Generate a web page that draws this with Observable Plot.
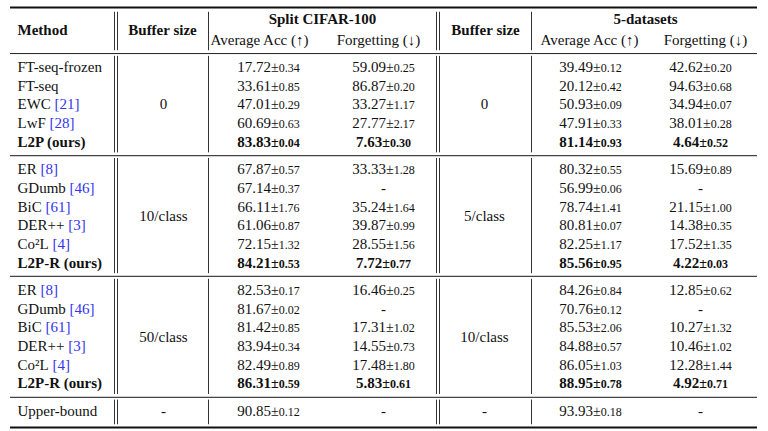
<!DOCTYPE html>
<html><head><meta charset="utf-8">
<script src="https://cdn.jsdelivr.net/npm/d3@7"></script>
<script src="https://cdn.jsdelivr.net/npm/@observablehq/plot@0.6"></script>
<style>html,body{margin:0;padding:0;background:#fff}svg{display:block}</style>
</head><body><div id="chart"></div>
<script>
// ---------- data ----------
const methods = ["FT-seq-frozen","FT-seq","EWC [21]","LwF [28]","L2P (ours)",
  "ER [8]","GDumb [46]","BiC [61]","DER++ [3]","Co\u00b2L [4]","L2P-R (ours)",
  "ER [8]","GDumb [46]","BiC [61]","DER++ [3]","Co\u00b2L [4]","L2P-R (ours)",
  "Upper-bound"];
const groupOf = [0,0,0,0,0, 1,1,1,1,1,1, 2,2,2,2,2,2, 3];
const bufferCifar = ["0","10/class","50/class","-"];
const bufferFive = ["0","5/class","10/class","-"];
const cifarAcc    = [17.72,33.61,47.01,60.69,83.83, 67.87,67.14,66.11,61.06,72.15,84.21, 82.53,81.67,81.42,83.94,82.49,86.31, 90.85];
const cifarAccStd = [0.34,0.85,0.29,0.63,0.04, 0.57,0.37,1.76,0.87,1.32,0.53, 0.17,0.02,0.85,0.34,0.89,0.59, 0.12];
const cifarFgt    = [59.09,86.87,33.27,27.77,7.63, 33.33,null,35.24,39.87,28.55,7.72, 16.46,null,17.31,14.55,17.48,5.83, null];
const cifarFgtStd = [0.25,0.20,1.17,2.17,0.30, 1.28,null,1.64,0.99,1.56,0.77, 0.25,null,1.02,0.73,1.80,0.61, null];
const fiveAcc     = [39.49,20.12,50.93,47.91,81.14, 80.32,56.99,78.74,80.81,82.25,85.56, 84.26,70.76,85.53,84.88,86.05,88.95, 93.93];
const fiveAccStd  = [0.12,0.42,0.09,0.33,0.93, 0.55,0.06,1.41,0.07,1.17,0.95, 0.84,0.12,2.06,0.57,1.03,0.78, 0.18];
const fiveFgt     = [42.62,94.63,34.94,38.01,4.64, 15.69,null,21.15,14.38,17.52,4.22, 12.85,null,10.27,10.46,12.28,4.92, null];
const fiveFgtStd  = [0.20,0.68,0.07,0.28,0.52, 0.89,null,1.00,0.35,1.35,0.03, 0.62,null,1.32,1.02,1.44,0.71, null];
const headerTop = ["Method","Buffer size","Split CIFAR-100","Buffer size","5-datasets"];
const headerSub = ["Average Acc (\u2191)","Forgetting (\u2193)","Average Acc (\u2191)","Forgetting (\u2193)"];

// ---------- layout ----------
const GAP = 0.46;
const colX = {method:17, buf1:163, cAcc:268, cFgt:383, buf2:484, fAcc:590, fFgt:700};
const topX = [17, 162, 322, 485, 645];
const topU = [-1.99, -1.99, -2.55, -1.99, -2.55];
const subX = [259, 378, 589, 705];
const subU = -1.43;
const tableX1 = 10, tableX2 = 757;
const uTop = -3.19, uHead = -0.73, uBottom = 19.27;

const fmt = d3.format(".2f");
const rows = methods.map((m, i) => ({
  i, method: m, group: groupOf[i], u: i + GAP * groupOf[i],
  bold: /\(ours\)/.test(m),
  cAcc: cifarAcc[i], cAccS: cifarAccStd[i], cFgt: cifarFgt[i], cFgtS: cifarFgtStd[i],
  fAcc: fiveAcc[i], fAccS: fiveAccStd[i], fFgt: fiveFgt[i], fFgtS: fiveFgtStd[i]
}));
const cellText = (v, s) => v == null ? "-" : fmt(v) + (s == null ? "" : "\u00b1" + fmt(s));

const groupRules = [];
for (let g = 1; g <= 3; g++) {
  const prev = rows.filter(r => r.group === g - 1), next = rows.filter(r => r.group === g);
  groupRules.push((prev[prev.length - 1].u + next[0].u) / 2);
}
const buffers = [0,1,2,3].map(g => {
  const rs = rows.filter(r => r.group === g);
  return {g, u: (rs[0].u + rs[rs.length - 1].u) / 2, c: bufferCifar[g], f: bufferFive[g]};
});
const hLines = [uTop, uHead, ...groupRules, uBottom];
const segs = [];
for (let k = 0; k < hLines.length - 1; k++) segs.push({y1: hLines[k] + (k === 0 ? 0.25 : 0.15), y2: hLines[k + 1] - 0.15});
const vSingle = [208, 531], vDouble = [114, 117, 436, 439];
const vLines = [];
for (const s of segs) for (const x of [...vSingle, ...vDouble]) vLines.push({x, ...s});

function cellMarks(key, skey, x) {
  const t = d => cellText(d[key], d[skey]);
  return [
    Plot.text(rows.filter(r => !r.bold), {x: () => x, y: "u", text: t, textAnchor: "middle"}),
    Plot.text(rows.filter(r => r.bold), {x: () => x, y: "u", text: t, textAnchor: "middle", fontWeight: "bold"})
  ];
}

const chart = Plot.plot({
  width: 768, height: 431, margin: 0,
  x: {type: "linear", domain: [0, 768], range: [0, 768], axis: null},
  y: {type: "linear", domain: [-3.567, 19.48], range: [0, 431], axis: null},
  style: {fontFamily: "'Liberation Serif', 'Times New Roman', serif", fontSize: "15px", background: "#fff", color: "#111"},
  marks: [
    Plot.ruleY([uTop, uBottom], {x1: tableX1, x2: tableX2, stroke: "#111", strokeWidth: 2}),
    Plot.ruleY([uHead], {x1: tableX1, x2: tableX2, stroke: "#222", strokeWidth: 1}),
    Plot.ruleY(groupRules, {x1: tableX1, x2: tableX2, stroke: "#444", strokeWidth: 1.3}),
    Plot.ruleX(vLines, {x: "x", y1: "y1", y2: "y2", stroke: "#333", strokeWidth: 1}),
    Plot.text(headerTop.slice(0, 1), {x: (d, i) => topX[i], y: (d, i) => topU[i], text: d => d, textAnchor: "start", fontWeight: "bold"}),
    Plot.text(headerTop.slice(1), {x: (d, i) => topX[i + 1], y: (d, i) => topU[i + 1], text: d => d, textAnchor: "middle", fontWeight: "bold"}),
    Plot.text(headerSub, {x: (d, i) => subX[i], y: () => subU, text: d => d, textAnchor: "middle"}),
    Plot.text(rows.filter(r => !r.bold), {x: () => colX.method, y: "u", text: "method", textAnchor: "start"}),
    Plot.text(rows.filter(r => r.bold), {x: () => colX.method, y: "u", text: "method", textAnchor: "start", fontWeight: "bold"}),
    Plot.text(buffers, {x: () => colX.buf1, y: "u", text: "c", textAnchor: "middle"}),
    Plot.text(buffers, {x: () => colX.buf2, y: "u", text: "f", textAnchor: "middle"}),
    ...cellMarks("cAcc", "cAccS", colX.cAcc),
    ...cellMarks("cFgt", "cFgtS", colX.cFgt),
    ...cellMarks("fAcc", "fAccS", colX.fAcc),
    ...cellMarks("fFgt", "fFgtS", colX.fFgt)
  ]
});

// rich text: smaller std deviations, blue citations
const ns = "http://www.w3.org/2000/svg";
const span = (txt, attrs) => {
  const s = document.createElementNS(ns, "tspan");
  s.textContent = txt;
  for (const [k, v] of Object.entries(attrs || {})) s.setAttribute(k, v);
  return s;
};
chart.querySelectorAll("text").forEach(el => {
  if (el.querySelector("tspan")) return;
  const t = el.textContent;
  const k = t.indexOf("\u00b1");
  const j = t.indexOf(" [");
  if (k > 0) {
    el.textContent = "";
    el.appendChild(span(t.slice(0, k)));
    el.appendChild(span("\u00b1", {"font-size": 14}));
    el.appendChild(span(t.slice(k + 1), {"font-size": 12}));
  } else if (j > 0) {
    el.textContent = "";
    el.appendChild(span(t.slice(0, j) + "\u00a0"));
    el.appendChild(span(t.slice(j + 1), {fill: "#3535ee"}));
  }
});
document.getElementById("chart").appendChild(chart);
</script>
</body></html>
